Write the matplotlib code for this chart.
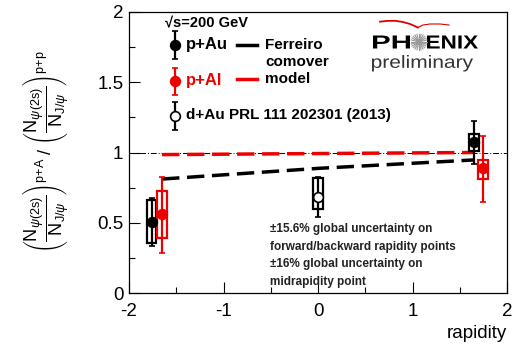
import numpy as np
import matplotlib.pyplot as plt
from matplotlib.patches import Rectangle, PathPatch
from matplotlib.ticker import MultipleLocator
from matplotlib.textpath import TextPath
from matplotlib.font_manager import FontProperties
from matplotlib.transforms import Affine2D

plt.rcParams['font.family'] = ['Liberation Sans', 'DejaVu Sans']
plt.rcParams['mathtext.fontset'] = 'custom'
plt.rcParams['mathtext.rm'] = 'Liberation Sans'
plt.rcParams['mathtext.it'] = 'Liberation Sans:italic'
plt.rcParams['mathtext.bf'] = 'Liberation Sans:bold'

# p+Au (black, filled)
pau_x = [-1.76, 1.65]
pau_y = [0.507, 1.073]
pau_stat_lo = [0.172, 0.155]
pau_stat_hi = [0.171, 0.153]
pau_sys_lo = [0.153, 0.060]
pau_sys_hi = [0.153, 0.057]

# p+Al (red, filled)
pal_x = [-1.65, 1.746]
pal_y = [0.562, 0.888]
pal_stat_lo = [0.277, 0.243]
pal_stat_hi = [0.266, 0.229]
pal_sys_lo = [0.168, 0.077]
pal_sys_hi = [0.164, 0.059]

# d+Au PRL 111 202301 (open)
dau_x = [0.0]
dau_y = [0.681]
dau_stat_lo = [0.142]
dau_stat_hi = [0.147]
dau_sys_lo = [0.083]
dau_sys_hi = [0.135]

# Ferreiro comover model
model_pau_x = [-1.65, 0.0, 1.65]
model_pau_y = [0.811, 0.887, 0.947]
model_pal_x = [-1.65, 1.65]
model_pal_y = [0.985, 1.0]

xticks = [-2, -1, 0, 1, 2]
yticks = [0, 0.5, 1, 1.5, 2]
xtick_labels = ['-2', '-1', '0', '1', '2']
ytick_labels = ['0', '0.5', '1', '1.5', '2']

fig = plt.figure(figsize=(5.22, 3.49), dpi=100)
ax = fig.add_axes([129 / 522, 1 - 293 / 349, 378 / 522, 281 / 349])

ax.axhline(1.0, color='black', lw=0.7, ls=(0, (6, 2, 1, 2)), zorder=1)
ax.plot(model_pau_x, model_pau_y, color='black', lw=2.5, ls=(0, (5, 2.2)), zorder=2)
ax.plot(model_pal_x, model_pal_y, color='#ee0000', lw=2.5, ls=(0, (5, 2.2)), zorder=2)

bw = 0.05


def draw(xs, ys, slo, shi, ylo, yhi, col, face):
    for x, y, a, b, c, d in zip(xs, ys, slo, shi, ylo, yhi):
        ax.add_patch(Rectangle((x - bw, y - c), 2 * bw, c + d, fill=False,
                               edgecolor=col, lw=1.6, zorder=3))
    ax.errorbar(xs, ys, yerr=[slo, shi], fmt='o', color=col, mfc=face, mec=col,
                ms=7, mew=1.2, elinewidth=1.6, capsize=2, capthick=1.6, zorder=4)


draw(pau_x, pau_y, pau_stat_lo, pau_stat_hi, pau_sys_lo, pau_sys_hi, 'black', 'black')
draw(pal_x, pal_y, pal_stat_lo, pal_stat_hi, pal_sys_lo, pal_sys_hi, '#ee0000', '#ee0000')
draw(dau_x, dau_y, dau_stat_lo, dau_stat_hi, dau_sys_lo, dau_sys_hi, 'black', 'white')

ax.set_xlim(-2, 2)
ax.set_ylim(0, 2)
ax.set_xticks(xticks, xtick_labels)
ax.set_yticks(yticks, ytick_labels)
ax.xaxis.set_minor_locator(MultipleLocator(0.5))
ax.yaxis.set_minor_locator(MultipleLocator(0.25))
ax.tick_params(which='both', direction='in', top=False, right=False, labelsize=13.5)
ax.tick_params(axis='x', pad=7)
ax.tick_params(axis='y', pad=4)
ax.tick_params(which='major', length=8, width=0.8)
ax.tick_params(which='minor', length=4, width=0.8)
for s in ax.spines.values():
    s.set_linewidth(0.9)

fig.text(507 / 522, 1 - 334 / 349, 'rapidity', ha='right', va='center', fontsize=13.5)
frac = r'\left(\dfrac{\mathrm{N}_{\psi\mathrm{(2s)}}}{\mathrm{N}_{\mathrm{J}/\psi}}\right)'
fig.text(46 / 522, 1 - 152 / 349,
         '$' + frac + r'^{\mathrm{p}{+}\mathrm{A}}\ /\ ' + frac + r'^{\mathrm{p}{+}\mathrm{p}}$',
         rotation=90, ha='center', va='center', fontsize=13)


def fx(px):
    return px / 522


def fy(py):
    return 1 - py / 349


def boxed_text(s, x0, x1, ytop, ybot, color, weight):
    # text stretched to fill a pixel box, like the PHENIX logo
    tp = TextPath((0, 0), s, size=1, prop=FontProperties(family='Liberation Sans', weight=weight))
    ext = tp.get_extents()
    sx = (x1 - x0) / ext.width
    sy = (ybot - ytop) / ext.height
    tr = Affine2D().translate(-ext.x0, -ext.y0).scale(sx, sy).translate(x0, 349 - ybot)
    fig.add_artist(PathPatch(tp, transform=tr, color=color, lw=0))


# legend
fig.text(fx(165), fy(22), '√s=200 GeV', fontsize=10.5, fontweight='bold', va='center')
leg_x = -1.513
for ly, lo, hi, col, face in [(1.765, 0.10, 0.10, 'black', 'black'),
                              (1.509, 0.10, 0.093, '#ee0000', '#ee0000'),
                              (1.26, 0.10, 0.10, 'black', 'white')]:
    ax.errorbar([leg_x], [ly], yerr=[[lo], [hi]], fmt='o', color=col, mfc=face, mec=col,
                ms=7, mew=1.2, elinewidth=1.6, capsize=2, capthick=1.6, clip_on=False, zorder=5)
fig.text(fx(186), fy(44), 'p+Au', fontsize=12, fontweight='bold', va='center')
fig.text(fx(186), fy(80), 'p+Al', fontsize=12, fontweight='bold', va='center', color='#ee0000')
fig.text(fx(186), fy(115), 'd+Au PRL 111 202301 (2013)', fontsize=11, fontweight='bold', va='center')

fig.add_artist(plt.Line2D([fx(237), fx(257)], [fy(45), fy(45)], color='black', lw=2.5))
fig.add_artist(plt.Line2D([fx(237), fx(257)], [fy(79), fy(79)], color='#ee0000', lw=2.5))
fig.text(fx(265), fy(45), 'Ferreiro', fontsize=11, fontweight='bold', va='center')
fig.text(fx(265), fy(62), 'comover', fontsize=11, fontweight='bold', va='center')
fig.text(fx(265), fy(79), 'model', fontsize=11, fontweight='bold', va='center')

# PHENIX preliminary logo
boxed_text('PH', 373, 410, 35.5, 48.5, 'black', 'bold')
boxed_text('ENIX', 427, 478, 35.5, 48.5, 'black', 'bold')
boxed_text('preliminary', 372, 473, 55, 71.5, '#333333', 'normal')
cx, cy = 419, 42
for a in np.linspace(0, np.pi, 13)[:-1]:
    dx, dy = 8 * np.cos(a), 8 * np.sin(a)
    fig.add_artist(plt.Line2D([fx(cx - dx), fx(cx + dx)], [fy(cy - dy), fy(cy + dy)],
                              color='#999999', lw=0.8))
arc_x = [380, 387, 395, 403, 410, 418]
arc_y = [21.7, 20.9, 20.8, 22, 24, 27.5]
fig.add_artist(plt.Line2D([fx(v) for v in arc_x], [fy(v) for v in arc_y], color='#dd0000', lw=1.3))
arc2_x = [418, 423, 430, 440, 449]
arc2_y = [27.5, 25, 24, 24, 25]
fig.add_artist(plt.Line2D([fx(v) for v in arc2_x], [fy(v) for v in arc2_y], color='#dd0000', lw=0.8))

notes = ['±15.6% global uncertainty on',
         'forward/backward rapidity points',
         '±16% global uncertainty on',
         'midrapidity point']
for i, t in enumerate(notes):
    fig.text(fx(270), fy(229 + 17.7 * i), t, fontsize=8.5, fontweight='bold', va='center', color='#222222')

fig.savefig('out.png', dpi=100)
